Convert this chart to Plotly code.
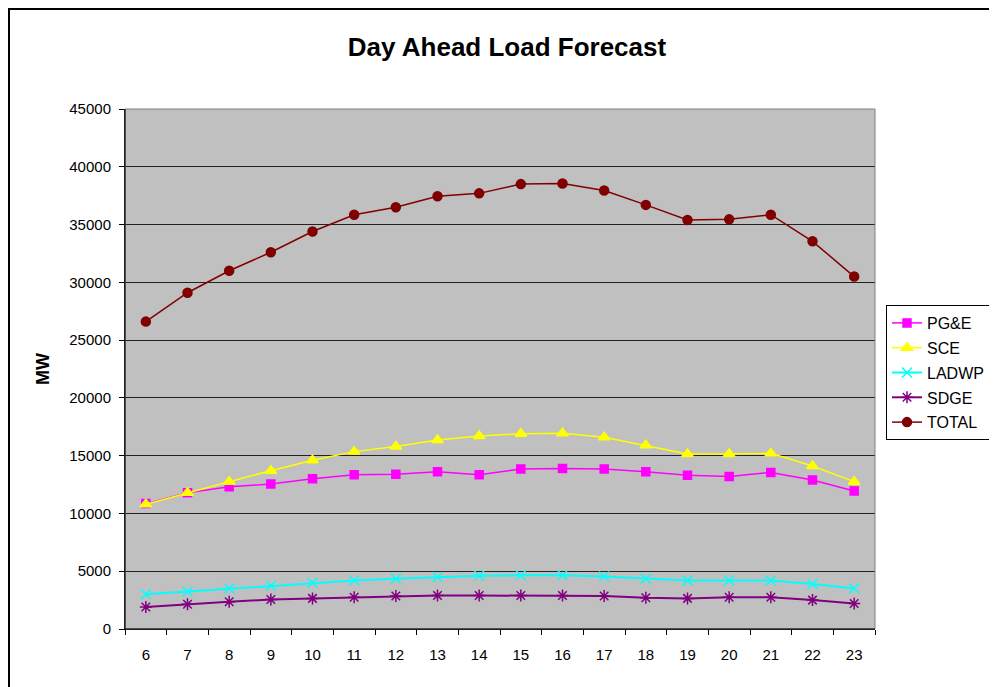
import plotly.graph_objects as go

hours = [str(h) for h in range(6, 24)]
pge = [10850, 11800, 12300, 12550, 13000, 13350, 13400, 13600, 13350, 13850, 13900, 13850, 13600, 13300, 13200, 13550, 12900, 11950]
sce = [10800, 11800, 12750, 13700, 14600, 15350, 15800, 16350, 16700, 16900, 16950, 16600, 15900, 15150, 15150, 15200, 14100, 12750]
ladwp = [3000, 3250, 3500, 3750, 4000, 4200, 4350, 4500, 4600, 4650, 4650, 4550, 4350, 4200, 4200, 4200, 3900, 3500]
sdge = [1900, 2150, 2350, 2550, 2650, 2750, 2850, 2900, 2900, 2900, 2900, 2850, 2700, 2650, 2750, 2750, 2500, 2200]
total = [26600, 29100, 31000, 32600, 34400, 35850, 36500, 37450, 37700, 38500, 38550, 37950, 36700, 35400, 35450, 35850, 33550, 30500]

series = [
    ("PG&E", pge, "#FF00FF", "square", 8, 1.5),
    ("SCE", sce, "#FFFF00", "triangle-up", 10, 1.5),
    ("LADWP", ladwp, "#00FFFF", "x-thin-open", 10, 2),
    ("SDGE", sdge, "#800080", "asterisk-open", 10, 2),
    ("TOTAL", total, "#800000", "circle", 9, 1.5),
]

fig = go.Figure()
for i, (name, vals, color, sym, size, lw) in enumerate(series):
    fig.add_trace(go.Scatter(
        x=hours, y=vals, name=name, mode="lines+markers",
        legendgroup=f"g{i}",
        line=dict(color=color, width=lw),
        marker=dict(symbol=sym, size=size, color=color, line=dict(color=color, width=1.5)),
    ))

font = "Liberation Sans, Arial, sans-serif"
# body margin of 8px in the html page is compensated in margins/size
W, H = 989, 679
L, R, T, B = 117, 122, 101, 58
pw, ph = W - L - R, H - T - B

fig.update_layout(
    width=W, height=H,
    margin=dict(l=L, r=R, t=T, b=B, autoexpand=False),
    paper_bgcolor="white",
    plot_bgcolor="#C0C0C0",
    font=dict(family=font, size=15, color="black"),
    title=dict(text="<b>Day Ahead Load Forecast</b>", x=(507 - 125) / pw, xref="paper",
               xanchor="center", y=1 - (47 - 8) / H, yanchor="middle",
               font=dict(family=font, size=26, color="black")),
    showlegend=True,
    legend=dict(x=(886 - 125) / pw, y=(629 - 305) / ph, xanchor="left", yanchor="top",
                bgcolor="white", bordercolor="black", borderwidth=1,
                traceorder="grouped", tracegroupgap=1,
                font=dict(family=font, size=16, color="black")),
    xaxis=dict(type="category", range=[-0.5, len(hours) - 0.5],
               tickson="boundaries", ticks="outside", ticklen=5,
               tickcolor="black", showline=True, linecolor="black", linewidth=1,
               showgrid=False, mirror=False, tickfont=dict(size=15),
               ticklabelstandoff=12),
    yaxis=dict(range=[0, 45000], dtick=5000, ticks="outside", ticklen=5, tickcolor="black",
               tickformat="d",
               showline=True, linecolor="black", linewidth=1,
               showgrid=True, gridcolor="#222222", gridwidth=1, zeroline=False,
               title=dict(text="<b>MW</b>", font=dict(size=18), standoff=14),
               tickfont=dict(size=15), ticklabelstandoff=5),
    shapes=[
        dict(type="rect", xref="paper", yref="paper", x0=0, x1=1, y0=0, y1=1,
             line=dict(color="#808080", width=1), fillcolor="rgba(0,0,0,0)", layer="above"),
        dict(type="line", xref="paper", yref="paper", x0=0, x1=0, y0=0, y1=1,
             line=dict(color="black", width=1), layer="above"),
        dict(type="line", xref="paper", yref="paper", x0=0, x1=1, y0=0, y1=0,
             line=dict(color="black", width=1), layer="above"),
        dict(type="rect", xref="paper", yref="paper", x0=(1 - L) / pw, x1=1.25,
             y0=-0.2, y1=(T + ph - 1) / ph, line=dict(color="black", width=2),
             fillcolor="rgba(0,0,0,0)"),
    ],
)

fig.write_html("out.html")
